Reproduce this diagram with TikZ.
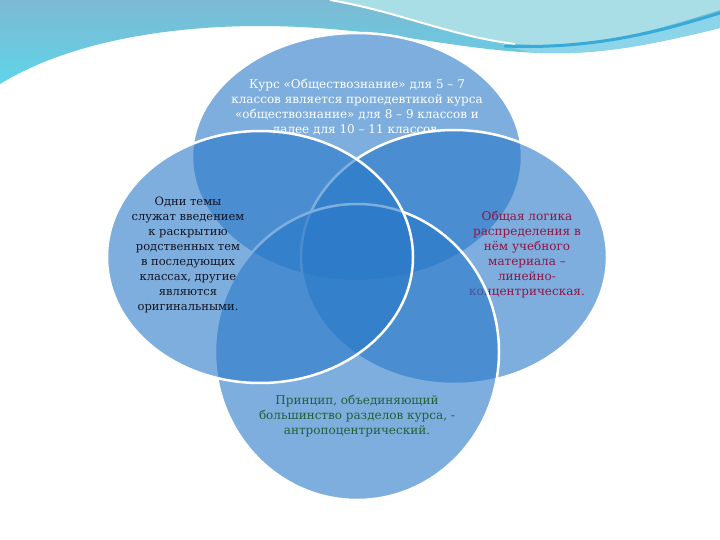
\documentclass[tikz,border=0pt]{standalone}
\usepackage{fontspec}
\setmainfont{DejaVu Serif}
\usetikzlibrary{shapes.geometric}
\definecolor{vennblue}{RGB}{40,120,200}
\definecolor{bandtop}{RGB}{125,185,212}
\definecolor{bandbot}{RGB}{95,212,232}
\definecolor{bandlight}{RGB}{170,222,230}
\definecolor{bandmid}{RGB}{140,212,234}
\definecolor{bandline}{RGB}{55,170,215}
\definecolor{txtdark}{RGB}{20,20,35}
\definecolor{txtred}{RGB}{145,20,70}
\definecolor{txtgreen}{RGB}{35,95,55}
\begin{document}
\begin{tikzpicture}[x=1pt,y=-1pt,
  venn/.style={ellipse, draw=white, line width=2.5pt, fill=vennblue, fill opacity=0.6, draw opacity=1, inner sep=0pt},
  lbl/.style={align=center, font=\fontsize{12}{15}\selectfont, inner sep=0pt}]
\useasboundingbox (0,0) rectangle (720,540);
\fill[white] (0,0) rectangle (720,540);
% decorative top wave
\shade[top color=bandtop, bottom color=bandbot]
  (0,0) -- (720,0) -- (720,28)
  .. controls (650,45) and (600,55) .. (540,53)
  .. controls (460,50) and (400,32) .. (300,27)
  .. controls (200,22) and (80,35) .. (0,84) -- cycle;
\fill[bandmid] (500,44) .. controls (600,50) and (670,25) .. (720,14) -- (720,28)
  .. controls (650,45) and (600,55) .. (540,53) .. controls (525,52) and (512,48) .. (500,44) -- cycle;
\fill[bandlight] (330,0) .. controls (400,12) and (450,36) .. (515,44)
  .. controls (600,50) and (670,25) .. (720,10) -- (720,0) -- cycle;
\draw[white, line width=2pt] (330,0) .. controls (400,12) and (450,36) .. (515,44);
\draw[bandline, line width=3pt, line cap=round] (505,46) .. controls (600,50) and (670,28) .. (720,13);
% Venn ellipses
\node[venn, minimum width=330pt, minimum height=248pt] (top) at (357,157) {};
\node[lbl, text=white] (toptext) at (357,107) {Курс «Обществознание» для 5 – 7\\классов является пропедевтикой курса\\«обществознание» для 8 – 9 классов и\\далее для 10 – 11 классов.};
\node[venn, minimum width=306pt, minimum height=254pt] (right) at (454,257) {};
\node[lbl, text=txtred] (righttext) at (527,255) {Общая логика\\распределения в\\нём учебного\\материала –\\линейно-\\концентрическая.};
\node[venn, minimum width=284pt, minimum height=296pt] (bottom) at (357,352) {};
\node[lbl, text=txtgreen] (bottomtext) at (357,416) {Принцип, объединяющий\\большинство разделов курса, -\\антропоцентрический.};
\node[venn, minimum width=306pt, minimum height=252pt] (left) at (260,257) {};
\node[lbl, text=txtdark, font=\fontsize{11.5}{15}\selectfont] (lefttext) at (188,255) {Одни темы\\служат введением\\к раскрытию\\родственных тем\\в последующих\\классах, другие\\являются\\оригинальными.};
\end{tikzpicture}
\end{document}
